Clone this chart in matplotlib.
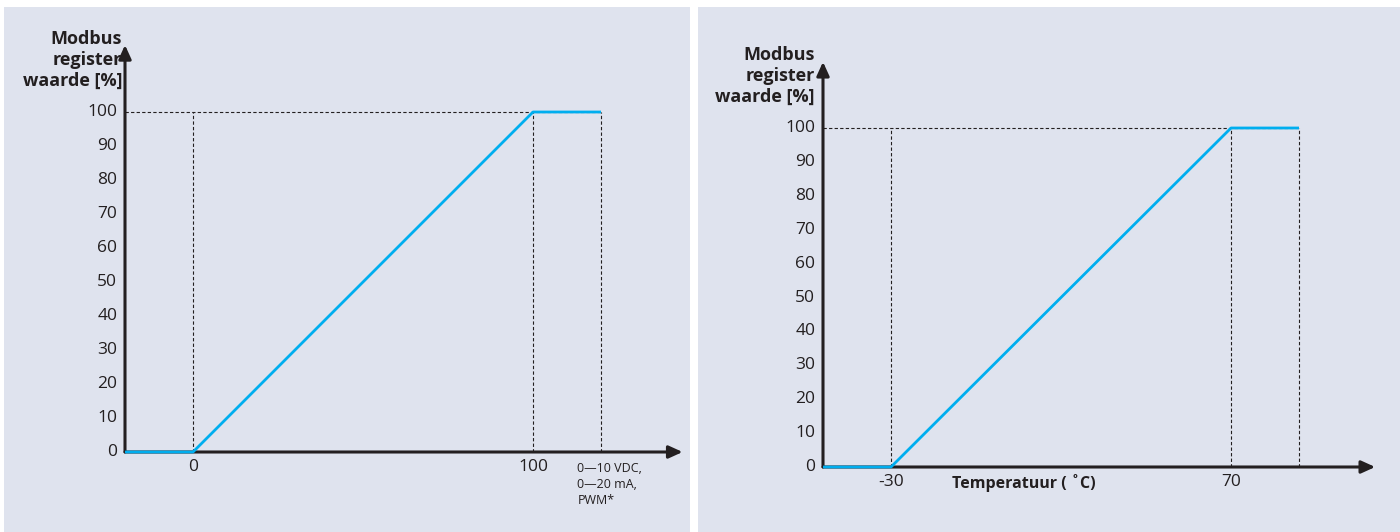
"""Modbus register value vs. analogue input / temperature (two panels)."""
import matplotlib
matplotlib.use("Agg")
import matplotlib.pyplot as plt

BG = "#dfe3ee"
BLUE = "#00aeef"
INK = "#231f20"
FONT = ["Open Sans", "DejaVu Sans"]

y_ticks = [0, 10, 20, 30, 40, 50, 60, 70, 80, 90, 100]
y_label = "Modbus\nregister\nwaarde [%]"

# left panel: analogue input
in_x = [-20, 0, 100, 120]
in_y = [0, 0, 100, 100]
in_ticks = [0, 100]
in_ticklabels = ["0", "100"]
in_guides = [0, 100, 120]
in_unit = "0\u201410 VDC,\n0\u201420 mA,\nPWM*"

# right panel: temperature
t_x = [-50, -30, 70, 90]
t_y = [0, 0, 100, 100]
t_ticks = [-30, 70]
t_ticklabels = ["-30", "70"]
t_guides = [-30, 70, 90]
t_title = "Temperatuur ( \u02daC)"

W, H = 1400, 532
fig = plt.figure(figsize=(W / 100, H / 100), dpi=100)
fig.patch.set_facecolor("white")


def panel(px0, px1, x0_px, y0_px, scale_x, scale_y):
    # axes spanning a panel, limits set so that data (0,0) lands on (x0_px, y0_px)
    ax = fig.add_axes([px0 / W, 0, (px1 - px0) / W, 525 / H])
    ax.set_facecolor(BG)
    for s in ax.spines.values():
        s.set_visible(False)
    ax.set_xticks([])
    ax.set_yticks([])
    ax.set_xlim((px0 - x0_px) / scale_x, (px1 - x0_px) / scale_x)
    ax.set_ylim((y0_px - H) / scale_y, (y0_px - 7) / scale_y)
    return ax


def draw(ax, xs, ys, guides, ticks, ticklabels, xend, yend, lab_dx):
    x0 = xs[0]
    arr = dict(arrowstyle="-|>,head_length=0.55,head_width=0.25", lw=2.2,
               color=INK, shrinkA=0, shrinkB=0, mutation_scale=15)
    ax.annotate("", xy=(xend, 0), xytext=(x0, 0), arrowprops=arr, zorder=3)
    ax.annotate("", xy=(x0, yend), xytext=(x0, 0), arrowprops=arr, zorder=3)
    dot = dict(ls=(0, (3, 2)), lw=0.8, color=INK, zorder=2)
    for g in guides:
        ax.plot([g, g], [0, 100], **dot)
    ax.plot([x0, guides[-1]], [100, 100], **dot)
    ax.plot(xs, ys, color=BLUE, lw=2.0, zorder=5, solid_capstyle="butt")
    for v in y_ticks:
        ax.annotate(str(v), (x0, v), xytext=(-5.5, 0), textcoords="offset points",
                    ha="right", va="center", fontsize=12.5, color=INK, family=FONT)
    for t, l in zip(ticks, ticklabels):
        ax.annotate(l, (t, 0), xytext=(0, -5), textcoords="offset points",
                    ha="center", va="top", fontsize=12.5, color=INK, family=FONT)
    ax.annotate(y_label, (x0, 115.3), xytext=(lab_dx, 0), textcoords="offset points",
                ha="right", va="center", multialignment="right", fontsize=13,
                fontweight="bold", color=INK, linespacing=1.22, family=FONT)


axl = panel(4, 690, 193, 452, 3.4, 3.4)
draw(axl, in_x, in_y, in_guides, in_ticks, in_ticklabels, 144, 119.7, -2)
axl.annotate(in_unit, (in_guides[-1], 0), xytext=(-17, -7.5), textcoords="offset points",
             ha="left", va="top", fontsize=9, color=INK, linespacing=1.3, family=FONT)

axr = panel(698, 1400, 891 + 30 * 3.4, 467, 3.4, 3.39)
draw(axr, t_x, t_y, t_guides, t_ticks, t_ticklabels, 112.4, 119.5, -6)
axr.annotate(t_title, (9, 0), xytext=(0, -5), textcoords="offset points",
             ha="center", va="top", fontsize=11.5, fontweight="bold", color=INK, family=FONT)

fig.savefig("out.png", dpi=100, facecolor=fig.get_facecolor())
